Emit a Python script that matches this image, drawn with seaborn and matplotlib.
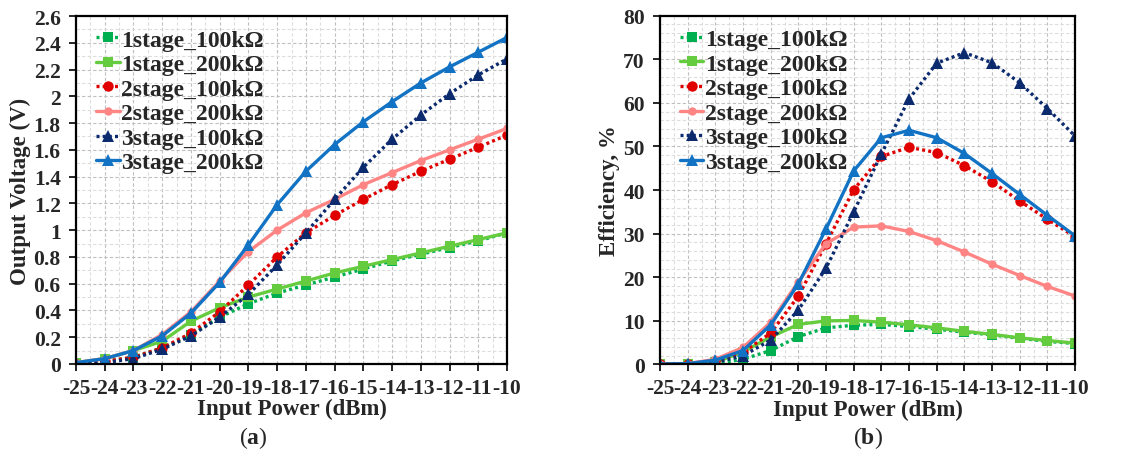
import numpy as np
import pandas as pd
import matplotlib
matplotlib.use("Agg")
import matplotlib.pyplot as plt
from matplotlib.ticker import MultipleLocator, FuncFormatter
import seaborn as sns

# Input power sweep (dBm)
input_power = [-25, -24, -23, -22, -21, -20, -19, -18, -17, -16, -15, -14, -13, -12, -11, -10]

series_names = ["1stage_100kΩ", "1stage_200kΩ", "2stage_100kΩ",
                "2stage_200kΩ", "3stage_100kΩ", "3stage_200kΩ"]

# Output voltage (V)
v_1stage_100k = [0.00, 0.02, 0.05, 0.12, 0.22, 0.35, 0.45, 0.53, 0.59, 0.65, 0.71, 0.77, 0.82, 0.87, 0.92, 0.98]
v_1stage_200k = [0.01, 0.04, 0.10, 0.17, 0.32, 0.42, 0.50, 0.56, 0.62, 0.68, 0.73, 0.78, 0.83, 0.88, 0.93, 0.98]
v_2stage_100k = [0.00, 0.02, 0.05, 0.12, 0.23, 0.39, 0.59, 0.80, 0.98, 1.11, 1.23, 1.34, 1.44, 1.53, 1.62, 1.71]
v_2stage_200k = [0.01, 0.04, 0.10, 0.22, 0.39, 0.62, 0.84, 1.00, 1.13, 1.23, 1.34, 1.43, 1.52, 1.60, 1.68, 1.76]
v_3stage_100k = [0.00, 0.01, 0.04, 0.11, 0.21, 0.35, 0.52, 0.74, 0.98, 1.23, 1.47, 1.68, 1.86, 2.02, 2.16, 2.28]
v_3stage_200k = [0.01, 0.04, 0.10, 0.21, 0.38, 0.61, 0.89, 1.19, 1.44, 1.64, 1.81, 1.96, 2.10, 2.22, 2.33, 2.44]

# Efficiency (%)
e_1stage_100k = [0.0, 0.1, 0.2, 1.2, 3.2, 6.4, 8.4, 9.0, 9.2, 8.7, 8.1, 7.4, 6.8, 6.0, 5.3, 4.8]
e_1stage_200k = [0.1, 0.2, 0.5, 2.9, 6.3, 9.2, 10.0, 10.1, 9.7, 9.1, 8.4, 7.6, 6.9, 6.1, 5.5, 4.9]
e_2stage_100k = [0.0, 0.1, 0.8, 2.8, 7.2, 15.7, 27.7, 40.1, 47.7, 49.8, 48.6, 45.6, 41.9, 37.5, 33.3, 29.3]
e_2stage_200k = [0.1, 0.2, 1.2, 3.9, 9.7, 19.0, 27.7, 31.5, 31.8, 30.5, 28.4, 25.8, 23.0, 20.4, 17.9, 15.7]
e_3stage_100k = [0.0, 0.1, 0.5, 2.0, 5.6, 12.5, 22.1, 35.0, 48.3, 60.9, 69.1, 71.5, 69.2, 64.6, 58.7, 52.4]
e_3stage_200k = [0.1, 0.2, 1.0, 3.2, 9.1, 18.5, 31.1, 44.4, 52.0, 53.7, 52.0, 48.4, 43.8, 39.0, 34.2, 29.5]

voltage = [v_1stage_100k, v_1stage_200k, v_2stage_100k, v_2stage_200k, v_3stage_100k, v_3stage_200k]
efficiency = [e_1stage_100k, e_1stage_200k, e_2stage_100k, e_2stage_200k, e_3stage_100k, e_3stage_200k]

# Line styling per series
colors = ["#00B050", "#66CC3F", "#E00000", "#FF8585", "#0C2A6E", "#1273C4"]
dotted = [True, False, True, False, True, False]
markers = ["s", "s", "o", "o", "^", "^"]
msizes = [7, 7.5, 7.5, 6, 8, 8]
DOTS = (0, (0.9, 0.95))

sns.set_theme(style="white")
plt.rcParams["font.family"] = ["Liberation Serif", "DejaVu Serif"]
plt.rcParams["axes.unicode_minus"] = False
plt.rcParams["mathtext.fontset"] = "custom"
plt.rcParams["mathtext.rm"] = "Liberation Serif"
plt.rcParams["mathtext.bf"] = "Liberation Serif:bold"

fig = plt.figure(figsize=(11.21, 4.56), dpi=100)
ax1 = fig.add_axes([0.0678, 0.1996, 0.3845, 0.763])
ax2 = fig.add_axes([0.5888, 0.1985, 0.3702, 0.765])


def build_frame(values):
    rows = []
    for name, ys in zip(series_names, values):
        for x, y in zip(input_power, ys):
            rows.append({"power": x, "value": y, "series": name})
    return pd.DataFrame(rows)


def draw(ax, values, ymax, ymajor, yminor, ylabel, fmt):
    df = build_frame(values)
    for i, name in enumerate(series_names):
        sub = df[df["series"] == name]
        sns.lineplot(data=sub, x="power", y="value", ax=ax, color=colors[i],
                     linewidth=2.4, marker=markers[i],
                     markersize=msizes[i], markeredgewidth=0, label=name)
        line = ax.lines[-1]
        if dotted[i]:
            line.set_linestyle(DOTS)
            line.set_dash_capstyle("butt")
        else:
            line.set_linestyle("-")
    ax.set_xlim(-25, -10)
    ax.set_ylim(0, ymax)
    ax.xaxis.set_major_locator(MultipleLocator(1))
    ax.xaxis.set_minor_locator(MultipleLocator(0.5))
    ax.yaxis.set_major_locator(MultipleLocator(ymajor))
    ax.yaxis.set_minor_locator(MultipleLocator(yminor))
    ax.yaxis.set_major_formatter(FuncFormatter(fmt))
    ax.grid(which="major", color="#BFBFBF", linestyle=(0, (3, 2)), linewidth=0.8)
    ax.grid(which="minor", color="#DDDDDD", linestyle=(0, (3, 2)), linewidth=0.8)
    ax.set_axisbelow(True)
    for sp in ax.spines.values():
        sp.set_color("black")
        sp.set_linewidth(1.6)
    ax.tick_params(axis="both", which="major", direction="out", length=5, width=1.2,
                   color="black", labelsize=15.5, pad=3, bottom=True, left=True)
    ax.tick_params(axis="x", which="major", pad=5)
    ax.tick_params(axis="y", which="major", pad=6)
    ax.tick_params(axis="both", which="minor", length=0)
    for lab in ax.get_xticklabels() + ax.get_yticklabels():
        lab.set_fontweight("bold")
    ax.set_xlabel("Input Power (dBm)", fontsize=16.5, fontweight="bold", labelpad=0)
    ax.set_ylabel(ylabel, fontsize=16.5, fontweight="bold", labelpad=2)
    leg = ax.legend(loc="upper left", frameon=False, prop={"weight": "bold", "size": 17},
                    handlelength=1.0, handletextpad=0.05, labelspacing=0.13,
                    borderaxespad=0.0, bbox_to_anchor=(0.025, 0.99))
    for i, h in enumerate(leg.legend_handles):
        if dotted[i]:
            h.set_linestyle(DOTS)


def volt_fmt(v, _):
    return f"{v:g}" if abs(v) > 1e-9 else "0"


def eff_fmt(v, _):
    return f"{v:.0f}"


draw(ax1, voltage, 2.6, 0.2, 0.1, "Output Voltage (V)", volt_fmt)
draw(ax2, efficiency, 80, 10, 2, "Efficiency, %", eff_fmt)

fig.text(0.2257, 0.012, r"($\mathbf{a}$)", ha="center", va="bottom", fontsize=17)
fig.text(0.7739, 0.012, r"($\mathbf{b}$)", ha="center", va="bottom", fontsize=17)

fig.savefig("out.png", dpi=100)
